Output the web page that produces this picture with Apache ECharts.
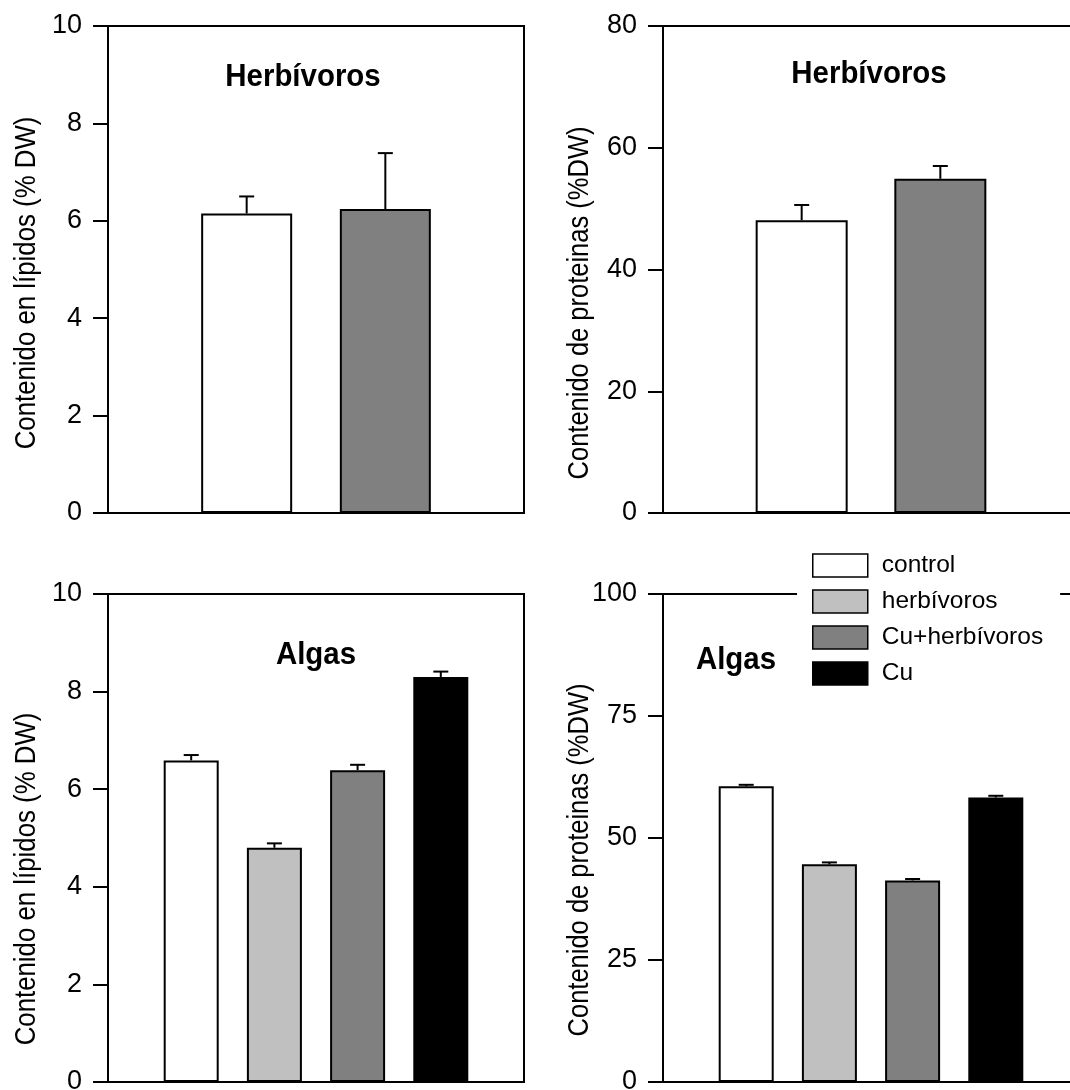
<!DOCTYPE html>
<html>
<head>
<meta charset="utf-8">
<script src="https://cdn.jsdelivr.net/npm/echarts@6/dist/echarts.min.js"></script>
<style>
  html, body { margin: 0; padding: 0; background: #fff; }
  #chart { width: 1070px; height: 1090px; }
</style>
</head>
<body>
<div id="chart"></div>
<script>
// Treatments and their fill colours
const treatments = ['control', 'herbívoros', 'Cu+herbívoros', 'Cu'];
const fills = { 'control': '#ffffff', 'herbívoros': '#c0c0c0', 'Cu+herbívoros': '#808080', 'Cu': '#000000' };

// Herbivore panels (two treatments)
const herbGroups = ['control', 'Cu+herbívoros'];
const herbLipid = [6.15, 6.24];
const herbLipidErr = [0.35, 1.15];
const herbProtein = [48.1, 54.9];
const herbProteinErr = [2.5, 2.1];

// Algae panels (four treatments)
const algaGroups = ['control', 'herbívoros', 'Cu+herbívoros', 'Cu'];
const algaLipid = [6.59, 4.80, 6.39, 8.30];
const algaLipidErr = [0.11, 0.09, 0.11, 0.11];
const algaProtein = [60.6, 44.6, 41.3, 58.3];
const algaProteinErr = [0.3, 0.4, 0.3, 0.35];

// Axis ranges
const lipidAxis = { min: 0, max: 10, interval: 2 };
const herbProteinAxis = { min: 0, max: 80, interval: 20 };
const algaProteinAxis = { min: 0, max: 100, interval: 25 };

// Panel headings and axis titles
const panelTitles = ['Herbívoros', 'Herbívoros', 'Algas', 'Algas'];
const lipidTitle = 'Contenido en lípidos (% DW)';
const proteinTitle = 'Contenido de proteinas (%DW)';

const FONT = 'Liberation Sans, Arial, Helvetica, sans-serif';

// x slots: empty padding slot at each end so bars sit at evenly spaced interior ticks
function slots(groups) { return [' '].concat(groups, ['  ']); }

// right-hand panels run slightly past the page edge
const grids = [
  { left: 108, top: 26, width: 416, height: 487 },
  { left: 663, top: 26, width: 416, height: 487 },
  { left: 108, top: 594, width: 416, height: 488 },
  { left: 663, top: 594, width: 416, height: 488 }
].map(g => Object.assign({
  show: true, borderColor: '#000', borderWidth: 2, backgroundColor: 'transparent',
  containLabel: false, outerBoundsMode: 'none'
}, g));

const panels = [
  { groups: herbGroups, vals: herbLipid, errs: herbLipidErr, axis: lipidAxis, name: lipidTitle, barW: 91, nameScale: 0.86 },
  { groups: herbGroups, vals: herbProtein, errs: herbProteinErr, axis: herbProteinAxis, name: proteinTitle, barW: 92, nameScale: 0.85 },
  { groups: algaGroups, vals: algaLipid, errs: algaLipidErr, axis: lipidAxis, name: lipidTitle, barW: 55, nameScale: 0.86 },
  { groups: algaGroups, vals: algaProtein, errs: algaProteinErr, axis: algaProteinAxis, name: proteinTitle, barW: 55, nameScale: 0.85 }
];

const xAxes = [], yAxes = [], series = [];

panels.forEach((p, i) => {
  xAxes.push({
    gridIndex: i, type: 'category', data: slots(p.groups), boundaryGap: false,
    axisLine: { show: true, lineStyle: { color: '#000', width: 2 } },
    axisTick: { show: false }, axisLabel: { show: false }, splitLine: { show: false }
  });
  yAxes.push({
    gridIndex: i, type: 'value', min: p.axis.min, max: p.axis.max, interval: p.axis.interval,
    axisLine: { show: true, lineStyle: { color: '#000', width: 2 } },
    axisTick: { show: true, inside: false, length: 15, lineStyle: { color: '#000', width: 2 } },
    axisLabel: { color: '#000', fontSize: 27, fontFamily: FONT, margin: 26 },
    splitLine: { show: false }
  });

  // one bar series per treatment so the legend picks up each fill colour
  p.groups.forEach((g, k) => {
    series.push({
      type: 'bar', name: g, xAxisIndex: i, yAxisIndex: i,
      barWidth: p.barW, barGap: '-100%',
      data: [[g, p.vals[k]]],
      itemStyle: { color: fills[g], borderColor: '#000', borderWidth: 2 },
      emphasis: { disabled: true }, animation: false
    });
  });

  // upper error bars
  series.push({
    type: 'custom', xAxisIndex: i, yAxisIndex: i, z: 5, animation: false,
    data: p.groups.map((g, k) => [g, p.vals[k], p.errs[k]]),
    renderItem: function (params, api) {
      const x = api.value(0);
      const v = api.value(1), e = api.value(2);
      const base = api.coord([x, v]);
      const top = api.coord([x, v + e]);
      const half = 7.5;
      const style = { stroke: '#000', lineWidth: 2 };
      return {
        type: 'group',
        children: [
          { type: 'line', shape: { x1: base[0], y1: base[1], x2: top[0], y2: top[1] }, style: style },
          { type: 'line', shape: { x1: top[0] - half, y1: top[1], x2: top[0] + half, y2: top[1] }, style: style }
        ]
      };
    }
  });
});

// bold panel headings, slightly condensed
const titlePos = [[303, 77], [869, 74], [316, 655], [736, 660]];
const graphics = panelTitles.map((t, i) => ({
  type: 'text', x: titlePos[i][0], y: titlePos[i][1], z: 10, scaleX: 0.92,
  style: { text: t, fill: '#000', font: 'bold 32px ' + FONT, textAlign: 'center', textVerticalAlign: 'middle' }
}));

// vertical axis titles, reading bottom to top, condensed
const namePos = [[27, 283], [580, 303], [27, 879], [580, 860]];
panels.forEach((p, i) => {
  graphics.push({
    type: 'text', x: namePos[i][0], y: namePos[i][1], rotation: Math.PI / 2, scaleX: p.nameScale, z: 10,
    style: { text: p.name, fill: '#000', font: '30px ' + FONT, textAlign: 'center', textVerticalAlign: 'middle' }
  });
});

const chart = echarts.init(document.getElementById('chart'), null, { renderer: 'canvas' });
chart.setOption({
  animation: false,
  backgroundColor: '#fff',
  grid: grids,
  xAxis: xAxes,
  yAxis: yAxes,
  series: series,
  graphic: graphics,
  legend: {
    data: treatments,
    orient: 'vertical', left: 797, top: 550,
    backgroundColor: '#fff',
    padding: [3, 17, 3, 15],
    itemWidth: 55, itemHeight: 23, itemGap: 11,
    icon: 'rect',
    itemStyle: { borderColor: '#000', borderWidth: 1.5 },
    textStyle: { color: '#000', fontSize: 24.5, fontFamily: FONT, padding: [0, 0, 0, 9] },
    selectedMode: false
  }
});
</script>
</body>
</html>
